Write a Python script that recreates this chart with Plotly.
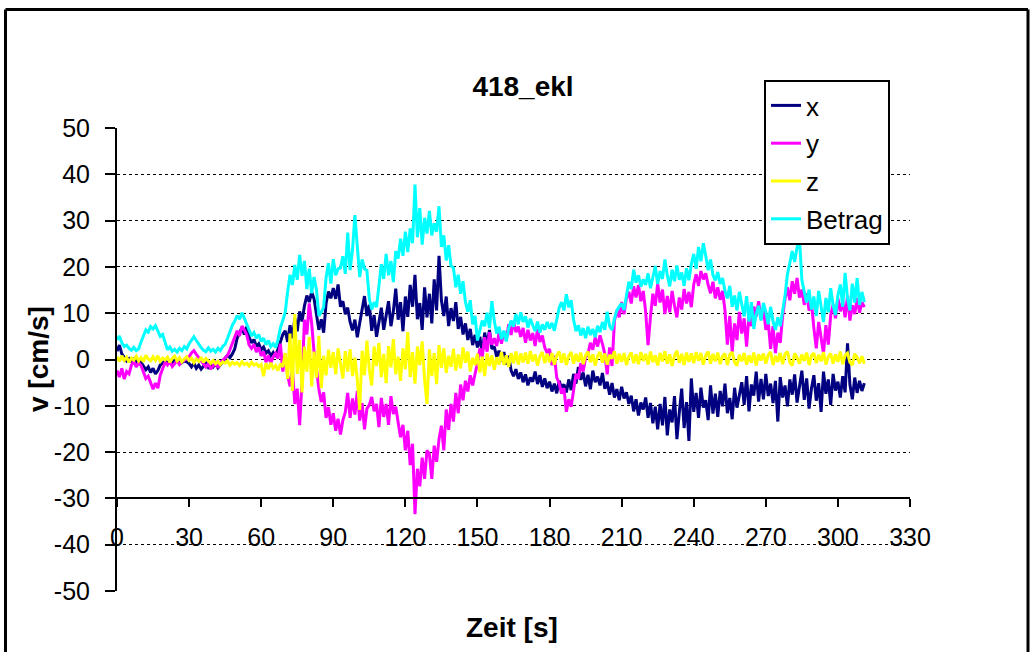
import plotly.graph_objects as go

# Messzeitpunkte [s]
zeit = list(range(312))

# Geschwindigkeit x-Richtung [cm/s]
v_x = [
    1.8, 3.1, 1.2, 0.4, -0.3, 0.2, -0.4, 0.1, -0.5, -0.2,
    -0.6, -1.4, -2.2, -1.6, -2.8, -1.9, -3.1, -2.4, -1.2, -0.8,
    -0.3, -0.8, -0.2, -0.6, 0.1, -0.4, -0.1, -0.7, -0.3, -0.5,
    -0.9, -1.6, -0.8, -1.9, -1.2, -2.1, -1.4, -0.8, -1.7, -1.1,
    -1.6, -0.9, -1.8, -1.2, -0.5, 0.3, 0.9, 0.4, 1.2, 2.3,
    4.6, 5.8, 6.9, 5.4, 7.1, 4.8, 3.6, 4.3, 2.8, 3.4,
    2.1, 2.7, 1.4, 1.9, 0.8, 1.5, 0.6, 2.2, 3.9, 5.4,
    6.2, 3.8, 7.4, 4.6, 8.9, 6.1, 10.4, 8.2, 11.6, 13.8,
    12.4, 14.6, 13.1, 9.2, 6.4, 8.7, 5.8, 12.1, 14.7, 13.2,
    15.4, 13.1, 16.2, 11.4, 12.6, 9.8, 11.2, 8.1, 6.3, 8.6,
    4.8, 7.9, 10.6, 13.7, 9.4, 11.8, 6.2, 9.6, 4.9, 8.3,
    11.2, 6.4, 9.8, 12.6, 7.2, 10.4, 15.3, 8.6, 12.4, 6.1,
    13.6, 9.2, 16.1, 11.4, 18.3, 8.7, 12.2, 6.4, 15.6, 9.1,
    14.2, 7.8, 17.3, 10.6, 22.4, 12.8, 9.4, 13.6, 7.2, 11.1,
    8.3, 12.4, 6.6, 9.2, 5.4, 7.8, 4.2, 6.6, 3.1, 5.3,
    2.6, 4.9, 1.2, 5.8, 3.2, 6.4, 2.3, 2.8, 0.6, 1.9,
    -0.4, 1.6, -1.1, 0.8, -2.4, -3.6, -2.1, -4.2, -2.8, -4.9,
    -3.2, -5.6, -3.9, -4.8, -2.6, -5.3, -3.4, -5.9, -4.1, -6.2,
    -4.8, -6.9, -5.2, -7.3, -4.6, -6.1, -5.4, -7.1, -4.3, -6.6,
    -3.1, -5.2, -1.6, -4.4, -2.8, -5.8, -3.3, -6.4, -2.4, -4.9,
    -3.7, -5.6, -2.9, -6.3, -4.8, -7.6, -5.1, -8.2, -6.4, -8.8,
    -5.9, -8.4, -7.1, -9.6, -7.8, -11.2, -8.6, -12.1, -9.3, -10.8,
    -8.2, -12.6, -9.4, -13.8, -10.2, -15.1, -9.6, -14.2, -8.1, -16.4,
    -10.8, -13.6, -7.9, -17.2, -11.4, -6.3, -14.8, -9.2, -17.6, -4.1,
    -11.3, -7.2, -12.6, -6.1, -10.4, -8.8, -13.1, -5.6, -11.7, -7.4,
    -12.4, -6.8, -10.1, -5.2, -11.6, -8.3, -12.9, -6.1, -10.4, -7.7,
    -4.9, -9.8, -3.6, -11.2, -5.4, -7.8, -2.6, -9.1, -4.2, -8.6,
    -3.1, -7.9, -5.2, -9.4, -4.6, -13.4, -3.8, -8.2, -5.6, -10.1,
    -4.3, -7.6, -3.2, -9.3, -5.8, -2.4, -8.7, -4.1, -10.6, -6.2,
    -3.4, -8.9, -5.1, -11.3, -2.6, -7.4, -4.3, -9.8, -3.1, -6.7,
    -4.8, -8.2, -3.6, -7.1, 3.5, -5.4, -8.6, -3.9, -7.2, -4.6,
    -6.8, -5.1,
]

# Geschwindigkeit y-Richtung [cm/s]
v_y = [
    -2.4, -3.8, -1.9, -4.2, -2.6, -3.1, -1.2, -0.4, -1.6, -0.7,
    -1.3, -2.8, -4.1, -3.6, -5.2, -6.4, -5.1, -6.2, -3.4, -2.1,
    -0.6, -1.2, -0.4, -1.5, -0.8, -0.3, -1.1, -0.5, -0.2, 0.3,
    0.6, 1.4, 1.9, 1.1, 0.4, -0.3, -0.8, -1.6, -0.9, -2.1,
    -1.4, -0.7, -1.8, -0.6, -0.2, 0.4, 0.9, 2.1, 3.6, 4.8,
    6.2, 5.1, 7.2, 6.4, 5.3, 3.1, 2.4, 3.3, 1.6, 2.6,
    0.8, 1.7, -0.6, 0.9, -0.8, 0.6, 1.3, 0.2, 3.4, -2.6,
    1.2, -3.4, -5.8, -2.1, -9.6, -6.3, -14.2, -4.8, 8.6, 5.4,
    12.1, 7.8, 1.6, -1.8, -6.4, -9.2, -7.1, -12.6, -10.3, -14.1,
    -11.6, -15.4, -12.8, -16.2, -13.1, -11.4, -7.2, -12.6, -8.4, -11.9,
    -6.8, -13.2, -9.4, -15.1, -10.6, -9.8, -8.1, -11.2, -9.6, -14.6,
    -8.3, -12.4, -9.6, -14.1, -7.9, -11.8, -10.2, -13.6, -16.8, -14.1,
    -19.6, -15.4, -22.8, -18.2, -33.4, -23.6, -27.4, -21.2, -25.8, -19.6,
    -20.4, -25.8, -18.6, -22.1, -17.2, -14.3, -19.6, -10.8, -15.2, -9.6,
    -13.4, -7.2, -11.6, -5.4, -8.8, -4.6, -6.9, -3.4, -5.6, -3.1,
    -0.8, 2.4, 0.6, 4.8, 1.7, 5.9, 3.2, 4.6, 2.9, 5.8,
    3.4, 6.1, 4.2, 7.6, 5.3, 8.2, 5.9, 7.1, 4.9, 6.8,
    3.6, 6.4, 4.1, 5.7, 2.9, 6.6, 3.8, 5.2, 2.6, 1.4,
    2.3, -1.2, 0.8, -3.9, -5.1, -7.4, -6.2, -11.3, -8.6, -10.2,
    -6.4, -3.1, -4.2, -0.8, -2.6, 0.4, 1.3, 3.6, 2.1, 4.8,
    2.8, 5.2, 3.4, 1.2, -3.2, 2.6, -1.4, 8.3, 10.6, 9.1,
    12.4, 9.8, 13.2, 14.6, 12.1, 15.8, 13.4, 16.1, 12.6, 14.8,
    10.3, 3.1, 9.2, 14.2, 11.6, 16.4, 12.3, 15.1, 9.8, 13.7,
    10.2, 14.8, 11.6, 9.1, 13.4, 10.8, 15.2, 12.1, 14.6, 11.3,
    16.2, 18.4, 15.9, 19.1, 17.3, 18.6, 16.1, 14.3, 16.8, 13.2,
    15.6, 12.9, 14.8, 10.6, 3.2, 9.4, 1.6, 7.8, 4.2, 10.3,
    5.6, 8.9, 2.8, 9.6, 7.2, 11.4, 9.3, 12.6, 8.7, 11.2,
    6.4, 8.1, 2.3, 7.2, 1.4, 5.8, 3.6, 9.4, 13.1, 15.6,
    12.8, 16.9, 14.2, 17.6, 13.4, 15.1, 11.8, 14.3, 10.6, 12.2,
    6.8, 2.4, 8.1, 4.6, 1.3, 7.4, 3.2, 9.6, 11.8, 8.9,
    13.2, 10.4, 12.6, 9.1, 13.8, 8.4, 11.7, 9.8, 13.3, 10.1,
    12.4, 11.3,
]

# Geschwindigkeit z-Richtung [cm/s]
v_z = [
    0.6, -0.4, 0.8, -0.2, 0.5, -0.6, 0.3, -0.1, 0.7, -0.3,
    0.4, -0.5, 0.9, 0.1, -0.3, 0.6, -0.2, 0.8, -0.4, 0.3,
    -0.1, 0.5, -0.6, 0.2, 0.7, -0.3, 0.4, -0.5, 0.1, 0.6,
    -0.2, 0.3, -0.7, 0.1, -0.4, 0.5, -0.6, 0.2, -0.3, -0.8,
    -0.2, -0.9, -0.4, -1.1, -0.5, -0.8, -0.3, -1.2, -0.6, -1.0,
    -0.7, -1.3, -0.5, -1.1, -0.8, -1.4, -0.6, -1.2, -0.9, -1.5,
    -1.1, -3.6, -0.8, -2.1, -0.7, -1.9, -1.3, -2.4, -0.9, -1.6,
    1.4, -4.2, 5.6, -6.8, 9.8, -3.1, 4.2, -7.1, 2.8, -2.6,
    4.9, -5.8, 1.7, -3.9, 5.1, -6.2, 0.8, -3.4, 2.1, -1.8,
    1.6, -3.2, 2.4, -0.9, -4.1, 1.8, -2.6, 2.2, -3.6, 0.4,
    -4.3, -10.9, 1.9, -3.4, 4.1, -2.2, -5.6, 2.8, -1.4, 3.6,
    -3.8, 1.2, -5.1, 2.9, -1.7, 4.4, -3.2, 0.6, -4.6, 2.4,
    -2.1, 5.9, -3.8, 1.6, -5.2, 2.8, -1.2, 3.9, -4.4, -9.6,
    2.2, -3.6, 1.4, -5.3, 3.1, -1.8, 2.4, -2.9, 0.8, -1.6,
    2.3, -2.4, 1.1, -1.9, 2.6, -0.7, 1.7, -2.6, 0.4, -1.2,
    1.2, -2.8, 0.6, -3.6, 1.3, -1.4, 0.9, -2.2, 0.5, -1.1,
    1.6, -1.2, 0.9, -1.6, 1.4, -0.8, 1.7, -1.1, 1.3, -0.6,
    1.5, -0.9, 1.8, -0.4, 1.1, -1.3, 0.7, 1.6, -0.8, 1.2,
    -0.6, 1.4, -1.1, 0.9, 1.7, -0.7, 1.3, -1.2, 0.8, 1.6,
    -0.9, 1.2, -0.5, 1.5, -1.0, 0.9, 1.7, -0.6, 1.1, -1.3,
    0.8, 1.6, -0.7, 1.3, -1.1, 1.0, 0.2, 1.8, -0.9, 1.2,
    -0.5, 1.4, -1.2, 0.7, 1.5, -0.8, 1.1, -1.0, 1.6, -0.3,
    1.2, -1.1, 1.7, -0.6, 0.9, -1.3, 1.4, -0.4, 1.8, -0.9,
    1.1, -1.4, 0.8, 1.9, -0.7, 1.2, -1.2, 1.5, -0.5, 1.3,
    -0.8, 1.6, -0.3, 1.4, -1.1, 0.9, 1.7, -0.9, 1.2, -0.4,
    1.5, -1.0, 0.7, 1.3, -1.2, 1.1, 1.6, -0.6, -1.3, 1.0,
    -0.4, 1.4, -1.1, 0.9, -0.7, 1.5, -1.3, 1.1, -0.2, 1.3,
    -0.9, 1.0, 1.6, -1.2, 0.8, -0.5, 1.4, -1.0, 1.2, 1.7,
    -0.6, -1.3, 1.3, 0.4, -0.9, 1.1, -0.3, 1.5, -1.2, 0.8,
    1.4, -0.8, 1.0, -0.4, 1.6, -1.1, 0.6, 1.3, -0.9, 1.1,
    -0.5, 1.7, -1.0, 0.9, 1.4, -0.6, -1.2, 1.2, 0.5, -0.8,
    0.7, -0.9,
]

# Betrag der Geschwindigkeit [cm/s]
v_betrag = [
    4.2, 5.1, 3.6, 2.8, 3.1, 2.4, 2.0, 2.6, 1.9, 2.3,
    3.8, 5.2, 6.4, 5.9, 7.1, 6.6, 7.3, 6.2, 5.0, 5.4,
    3.6, 2.1, 2.7, 1.8, 2.2, 1.6, 2.4, 1.9, 2.8, 2.3,
    3.4, 4.2, 4.9, 4.1, 3.2, 2.6, 2.0, 1.7, 2.5, 1.8,
    2.2, 1.6, 2.4, 1.9, 2.8, 3.3, 4.6, 6.1, 7.4, 8.3,
    9.5, 8.7, 10.1, 8.9, 7.6, 6.2, 5.1, 5.8, 4.6, 5.4,
    3.9, 4.6, 3.2, 4.1, 2.8, 3.4, 2.6, 4.3, 6.9, 8.4,
    10.2, 14.6, 18.3, 16.1, 20.4, 17.2, 22.6, 18.1, 21.3, 15.2,
    19.6, 14.3, 17.8, 15.1, 9.4, 10.2, 11.3, 17.6, 20.8, 16.4,
    21.7, 18.2, 19.6, 19.8, 22.3, 18.5, 27.4, 19.3, 23.6, 31.2,
    24.1, 17.8, 21.6, 19.6, 19.2, 13.1, 10.8, 12.4, 11.3, 16.1,
    20.6, 17.4, 22.8, 18.2, 21.3, 16.7, 23.4, 21.8, 26.1, 22.4,
    27.6, 23.2, 28.3, 25.1, 37.8, 26.4, 32.7, 24.8, 30.6, 27.2,
    32.1, 26.8, 29.4, 27.6, 33.1, 24.3, 26.8, 21.4, 24.7, 20.2,
    19.8, 15.6, 18.3, 14.2, 16.9, 12.4, 10.3, 12.8, 7.6, 9.4,
    4.1, 6.3, 8.4, 7.2, 10.1, 6.8, 12.6, 8.3, 5.6, 7.1,
    4.4, 6.2, 3.9, 6.8, 8.4, 7.1, 9.8, 7.6, 10.2, 8.1,
    9.3, 6.9, 8.8, 7.4, 6.1, 8.2, 5.8, 7.6, 6.4, 8.1,
    6.7, 7.9, 6.2, 8.6, 11.2, 12.4, 10.6, 14.1, 11.3, 12.8,
    8.6, 6.1, 7.4, 5.2, 6.8, 4.6, 7.1, 5.3, 6.6, 4.8,
    7.3, 5.9, 8.1, 6.4, 10.3, 7.2, 6.4, 8.8, 10.6, 11.4,
    12.1, 10.7, 13.4, 16.8, 15.2, 19.4, 16.6, 18.2, 15.7, 17.3,
    16.1, 18.6, 15.4, 17.8, 20.2, 16.3, 19.1, 17.4, 21.6, 18.2,
    15.8, 19.4, 16.9, 20.3, 17.2, 18.8, 15.9, 19.7, 17.1, 20.6,
    22.8, 19.6, 24.3, 21.2, 25.1, 22.4, 19.3, 21.6, 18.2, 17.1,
    18.9, 16.3, 17.6, 14.8, 13.2, 15.9, 11.4, 13.8, 10.6, 14.6,
    12.1, 9.3, 13.7, 8.2, 12.4, 6.6, 9.8, 11.6, 8.4, 12.2,
    10.3, 7.6, 11.4, 8.3, 6.4, 9.1, 7.2, 10.6, 13.8, 18.4,
    20.6, 23.4, 21.1, 24.2, 26.3, 17.2, 14.6, 12.3, 15.1, 10.8,
    13.6, 9.4, 14.8, 11.2, 8.1, 13.3, 10.2, 15.4, 11.8, 9.6,
    13.9, 16.2, 11.4, 18.7, 13.2, 10.6, 16.4, 12.3, 17.6, 11.8,
    14.6, 12.4,
]

x_ticks = [0, 30, 60, 90, 120, 150, 180, 210, 240, 270, 300, 330]
y_ticks = [-50, -40, -30, -20, -10, 0, 10, 20, 30, 40, 50]

FONT = "Liberation Sans, Arial, sans-serif"
W, H = 1033, 652
ML, MR, MT, MB = 117, 123, 128, 61


def px_x(p):
    return (p - ML) / (W - ML - MR)


def px_y(p):
    return (H - MB - p) / (H - MT - MB)


fig = go.Figure()
for name, vals, color in [
    ("x", v_x, "#000080"),
    ("y", v_y, "#FF00FF"),
    ("z", v_z, "#FFFF00"),
    ("Betrag", v_betrag, "#00FFFF"),
]:
    fig.add_trace(go.Scatter(
        x=zeit[:len(vals)], y=vals, mode="lines", name=name,
        legendgroup=name,
        line=dict(color=color, width=3),
    ))

fig.update_layout(
    width=W, height=H,
    margin=dict(l=ML, r=MR, t=MT, b=MB),
    paper_bgcolor="white", plot_bgcolor="white",
    font=dict(family=FONT, color="black", size=25),
    title=dict(text="<b>418_ekl</b>", font=dict(size=28),
               x=523 / W, xanchor="center",
               y=1 - 86 / H, yanchor="middle"),
    xaxis=dict(
        range=[0, 330], tickvals=x_ticks,
        ticktext=[str(v) for v in x_ticks],
        anchor="free", position=0.2,
        showline=True, linecolor="black", linewidth=2,
        ticks="outside", ticklen=8, tickwidth=2, tickcolor="black",
        ticklabelstandoff=9,
        showgrid=False, zeroline=False,
        tickfont=dict(size=25),
    ),
    yaxis=dict(
        range=[-50, 50], tickvals=y_ticks,
        ticktext=[str(v) for v in y_ticks],
        showline=True, linecolor="black", linewidth=2,
        ticks="outside", ticklen=10, tickwidth=2, tickcolor="black",
        ticklabelstandoff=10,
        showgrid=True, gridcolor="black", gridwidth=1, griddash="dot",
        zeroline=False,
        tickfont=dict(size=25),
    ),
    legend=dict(
        x=px_x(764), y=px_y(80), xanchor="left", yanchor="top",
        bgcolor="white", bordercolor="black", borderwidth=2,
        font=dict(size=26), tracegroupgap=1, itemwidth=30,
    ),
    annotations=[
        dict(text="<b>Zeit [s]</b>", xref="paper", yref="paper",
             x=px_x(512), y=px_y(627), xanchor="center", yanchor="middle",
             showarrow=False, font=dict(size=28)),
        dict(text="<b>v [cm/s]</b>", xref="paper", yref="paper",
             x=px_x(38), y=px_y(359), xanchor="center", yanchor="middle",
             textangle=-90, showarrow=False, font=dict(size=28)),
    ],
    shapes=[
        dict(type="line", xref="paper", yref="paper",
             x0=px_x(5.5), x1=px_x(1028), y0=px_y(9.5), y1=px_y(9.5),
             line=dict(color="black", width=3)),
        dict(type="line", xref="paper", yref="paper",
             x0=px_x(5.5), x1=px_x(5.5), y0=px_y(9.5), y1=px_y(700),
             line=dict(color="black", width=3)),
        dict(type="line", xref="paper", yref="paper",
             x0=px_x(1028), x1=px_x(1028), y0=px_y(9.5), y1=px_y(700),
             line=dict(color="black", width=3)),
    ],
)

fig.write_html("out.html")
